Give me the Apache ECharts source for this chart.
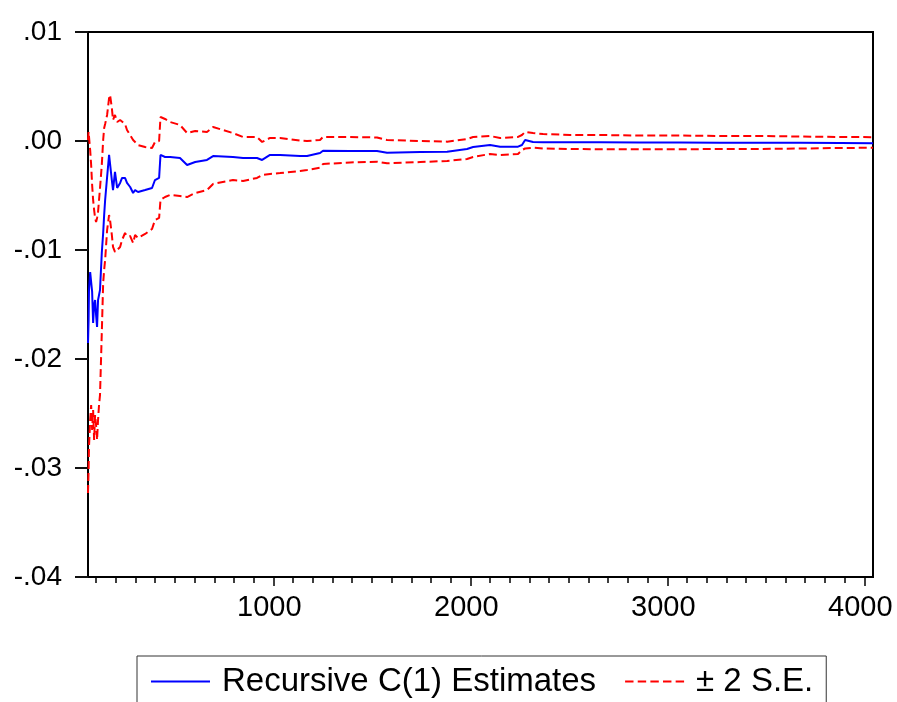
<!DOCTYPE html>
<html>
<head>
<meta charset="utf-8">
<script src="https://cdn.jsdelivr.net/npm/echarts@6/dist/echarts.min.js"></script>
<style>
  html, body { margin: 0; padding: 0; background: #fff; }
  #chart { width: 897px; height: 702px; }
</style>
</head>
<body>
<div id="chart"></div>
<script>
// Observation index of each recursive estimate
const obs = [59, 62, 64, 70, 75, 80, 85, 90, 95, 100,
  105, 110, 115, 120, 129, 136, 141, 146, 156, 166,
  171, 180, 186, 196, 207, 222, 232, 247, 257, 273,
  288, 298, 313, 349, 384, 399, 420, 427, 450, 476,
  526, 562, 603, 663, 694, 795, 846, 917, 943, 983,
  1034, 1136, 1171, 1237, 1252, 1389, 1526, 1577, 1745, 1882,
  1983, 2014, 2100, 2151, 2242, 2262, 2278, 2318, 2369, 2506,
  2658, 2861, 3064, 3267, 3470, 3674, 3877, 4044];

// Recursive C(1) estimates
const estimate = [-0.01853, -0.01642, -0.01367, -0.01202, -0.01294, -0.01385, -0.01670, -0.01505, -0.01459, -0.01596,
  -0.01706, -0.01459, -0.01413, -0.01367, -0.01028, -0.00844, -0.00679, -0.00541, -0.00330, -0.00128,
  -0.00110, -0.00358, -0.00450, -0.00284, -0.00431, -0.00385, -0.00339, -0.00339, -0.00385, -0.00422,
  -0.00477, -0.00450, -0.00468, -0.00450, -0.00431, -0.00358, -0.00339, -0.00128, -0.00147, -0.00147,
  -0.00156, -0.00220, -0.00193, -0.00174, -0.00138, -0.00147, -0.00156, -0.00156, -0.00174, -0.00128,
  -0.00128, -0.00138, -0.00138, -0.00110, -0.00089, -0.00092, -0.00092, -0.00107, -0.00101, -0.00098,
  -0.00073, -0.00055, -0.00037, -0.00052, -0.00052, -0.00037, 0.00009, -0.00009, -0.00012, -0.00012,
  -0.00012, -0.00014, -0.00014, -0.00016, -0.00017, -0.00017, -0.00018, -0.00020];

// Upper band: estimate + 2 S.E.
const upperBand = [0.00009, 0.00083, 0.00101, -0.00083, -0.00220, -0.00404, -0.00541, -0.00633, -0.00706, -0.00743,
  -0.00706, -0.00651, -0.00541, -0.00431, -0.00220, 0.00009, 0.00119, 0.00156, 0.00239, 0.00394,
  0.00422, 0.00303, 0.00193, 0.00239, 0.00174, 0.00193, 0.00211, 0.00156, 0.00101, 0.00055,
  0.00009, -0.00009, -0.00037, -0.00055, -0.00064, -0.00009, 0.00000, 0.00220, 0.00202, 0.00174,
  0.00147, 0.00073, 0.00092, 0.00083, 0.00128, 0.00073, 0.00037, 0.00037, -0.00009, 0.00028,
  0.00028, 0.00003, 0.00000, 0.00009, 0.00037, 0.00037, 0.00032, 0.00009, 0.00000, -0.00006,
  0.00018, 0.00037, 0.00046, 0.00028, 0.00037, 0.00055, 0.00083, 0.00073, 0.00064, 0.00055,
  0.00055, 0.00050, 0.00050, 0.00046, 0.00046, 0.00041, 0.00037, 0.00035];

// Lower band: estimate - 2 S.E.
const lowerBand = [-0.03229, -0.03018, -0.02807, -0.02560, -0.02422, -0.02651, -0.02468, -0.02743, -0.02514, -0.02606,
  -0.02743, -0.02560, -0.02422, -0.02330, -0.01761, -0.01303, -0.01183, -0.01092, -0.00817, -0.00679,
  -0.00725, -0.00862, -0.00972, -0.01018, -0.01000, -0.00972, -0.00908, -0.00844, -0.00872, -0.00872,
  -0.00936, -0.00862, -0.00890, -0.00853, -0.00807, -0.00725, -0.00706, -0.00541, -0.00514, -0.00495,
  -0.00505, -0.00514, -0.00477, -0.00450, -0.00394, -0.00358, -0.00367, -0.00339, -0.00312, -0.00303,
  -0.00294, -0.00275, -0.00266, -0.00245, -0.00211, -0.00197, -0.00190, -0.00205, -0.00193, -0.00183,
  -0.00165, -0.00147, -0.00119, -0.00128, -0.00119, -0.00083, -0.00069, -0.00061, -0.00069, -0.00073,
  -0.00076, -0.00076, -0.00076, -0.00073, -0.00073, -0.00069, -0.00064, -0.00062];

// Axis ticks
const xMajorTicks = [1000, 2000, 3000, 4000];
const xMinorTicks = [];
for (let v = 100; v <= 4000; v += 100) xMinorTicks.push(v);

const estName = 'Recursive C(1) Estimates';
const bandName = '\u00B1 2 S.E.';
const FONT = '"Liberation Sans", Arial, Helvetica, sans-serif';

const pairs = vals => obs.map((x, i) => [x, vals[i]]);

const chart = echarts.init(document.getElementById('chart'), null, { renderer: 'canvas' });

const xBase = {
  type: 'value',
  min: 59,
  max: 4044,
  position: 'bottom',
  splitLine: { show: false },
  axisLine: { show: true, onZero: false, lineStyle: { color: '#000', width: 2 } }
};

chart.setOption({
  animation: false,
  backgroundColor: '#fff',
  grid: {
    left: 88, right: 24, top: 32, bottom: 125,
    show: true, borderColor: '#000', borderWidth: 2, backgroundColor: '#fff'
  },
  xAxis: [
    // minor ticks every 100 observations, labels on the thousands
    Object.assign({}, xBase, {
      axisTick: { show: true, inside: false, length: 6, customValues: xMinorTicks, lineStyle: { color: '#000', width: 1.5 } },
      axisLabel: {
        show: true, customValues: xMajorTicks, margin: 16, color: '#000',
        fontFamily: FONT, fontSize: 29, padding: [0, 8, 0, 0],
        formatter: v => String(v)
      }
    }),
    // longer ticks on the thousands
    Object.assign({}, xBase, {
      axisTick: { show: true, inside: false, length: 9, customValues: xMajorTicks, lineStyle: { color: '#000', width: 1.5 } },
      axisLabel: { show: false }
    })
  ],
  yAxis: {
    type: 'value',
    min: -0.04,
    max: 0.01,
    interval: 0.01,
    splitLine: { show: false },
    axisLine: { show: true, onZero: false, lineStyle: { color: '#000', width: 2 } },
    axisTick: { show: true, inside: false, length: 13, lineStyle: { color: '#111', width: 2 } },
    axisLabel: {
      margin: 26, color: '#000', fontFamily: FONT, fontSize: 28,
      formatter: v => {
        const s = (Math.abs(v) < 1e-9 ? 0 : v).toFixed(2);
        return s.replace('0.', '.');
      }
    }
  },
  legend: {
    left: 137, top: 656,
    orient: 'horizontal',
    padding: [9, 13, 14, 14],
    borderColor: '#333', borderWidth: 1, backgroundColor: '#fff',
    itemWidth: 59, itemHeight: 2, itemGap: 29,
    symbolKeepAspect: false,
    selectedMode: false,
    itemStyle: { borderWidth: 0 },
    textStyle: { color: '#000', fontFamily: FONT, fontSize: 33, padding: [0, 0, 0, 7] },
    data: [
      { name: estName, icon: 'path://M0,0H59V2H0Z' },
      { name: bandName, icon: 'path://M0,0H8V2H0Z M12,0H20V2H12Z M24,0H32V2H24Z M36,0H44V2H36Z M48,0H56V2H48Z' }
    ]
  },
  series: [
    {
      name: bandName, type: 'line', xAxisIndex: 0, data: pairs(upperBand),
      symbol: 'none', showSymbol: false, color: '#ff0000',
      lineStyle: { color: '#ff0000', width: 2, type: [8, 4] }
    },
    {
      name: bandName, type: 'line', xAxisIndex: 0, data: pairs(lowerBand),
      symbol: 'none', showSymbol: false, color: '#ff0000',
      lineStyle: { color: '#ff0000', width: 2, type: [8, 4] }
    },
    {
      name: estName, type: 'line', xAxisIndex: 0, data: pairs(estimate),
      symbol: 'none', showSymbol: false, color: '#0000ff',
      lineStyle: { color: '#0000ff', width: 2 }
    }
  ]
});
</script>
</body>
</html>
